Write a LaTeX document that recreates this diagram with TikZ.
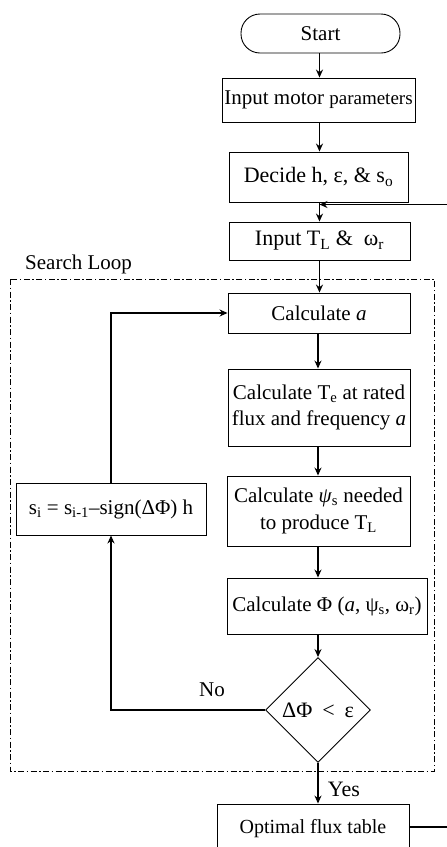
\documentclass[tikz,border=0pt]{standalone}
\usepackage{fontspec}
\setmainfont{Liberation Serif}
\usetikzlibrary{shapes.geometric,arrows.meta}
\newcommand\sbs[1]{\textsubscript{#1}}
\begin{document}
\begin{tikzpicture}[x=1pt,y=-1pt,
  box/.style={draw,line width=0.9pt,inner sep=0pt,align=center,font=\fontsize{21}{26.5}\selectfont},
  arr/.style={line width=1.6pt,-{Stealth[length=8pt,width=7pt]}},
  ln/.style={line width=1.6pt},
  lbl/.style={inner sep=0pt,font=\fontsize{21}{24}\selectfont}]
\clip (0,0) rectangle (447,847);
\node[box,rounded corners=19pt,minimum width=159pt,minimum height=39pt] (start) at (320.5,33.5) {Start};
\node[box,minimum width=193pt,minimum height=44pt] (inp) at (318.5,100) {Input motor {\fontsize{19}{22}\selectfont parameters}};
\node[box,minimum width=179pt,minimum height=50pt,font=\fontsize{22}{26}\selectfont] (dec0) at (318.5,177) {Decide h, ε, \& s\sbs{o}};
\node[box,minimum width=181pt,minimum height=38pt,font=\fontsize{22}{26}\selectfont] (tl) at (319.5,241) {Input T\sbs{L} \&\ \ ω\sbs{r}};
\node[box,minimum width=182pt,minimum height=40pt] (calca) at (319,313) {Calculate \textit{a}};
\node[box,minimum width=182pt,minimum height=77pt] (calcte) at (319,407.5) {Calculate T\sbs{e} at rated\\flux and frequency \textit{a}};
\node[box,minimum width=183pt,minimum height=70pt] (calcpsi) at (318.5,511) {Calculate \textit{ψ}\sbs{s} needed\\to produce T\sbs{L}};
\node[box,minimum width=200pt,minimum height=56pt] (calcphi) at (327,606) {Calculate Φ (\textit{a}, ψ\sbs{s}, ω\sbs{r})};
\node[box,shape=diamond,minimum width=105pt,minimum height=105pt,font=\fontsize{22}{26}\selectfont] (dec) at (318,710) {ΔΦ\hspace{0.45em}<\hspace{0.45em}ε};
\node[box,minimum width=190pt,minimum height=52pt] (si) at (111,509) {s\sbs{i} = s\sbs{i-1}–sign(ΔΦ) h};
\node[box,minimum width=192pt,minimum height=50pt,font=\fontsize{20}{24}\selectfont] (opt) at (313,829) {Optimal flux table};
\node[lbl,anchor=west] (sl) at (25,264) {Search Loop};
\node[lbl] (no) at (212,690) {No};
\node[lbl,font=\fontsize{22}{24}\selectfont] (yes) at (344,789) {Yes};
\draw[line width=1pt,dash pattern=on 6pt off 2.5pt on 1.5pt off 2.5pt] (10,279) rectangle (434,771);
\coordinate (rin) at (447,204.5);
\coordinate (j) at (319.5,204.5);
\coordinate (rout) at (447,827);
\draw[arr] (start.south -| j) -- (inp.north -| j);
\draw[arr] (inp.south -| j) -- (dec0.north -| j);
\draw[arr] (dec0.south -| j) -- (tl.north -| j);
\draw[arr] (rin) -- (j);
\draw[arr] (tl.south -| j) -- (calca.north -| j);
\draw[arr] (calca.south -| dec) -- (calcte.north -| dec);
\draw[arr] (calcte.south -| dec) -- (calcpsi.north -| dec);
\draw[arr] (calcpsi.south -| dec) -- (calcphi.north -| dec);
\draw[arr] (calcphi.south -| dec) -- (dec.north);
\draw[arr] (dec.south) -- (opt.north -| dec);
\draw[arr] (dec.west) -| (si.south);
\draw[arr] (si.north) |- (calca.west);
\draw[ln] (opt.east |- rout) -- (rout);
\end{tikzpicture}
\end{document}
